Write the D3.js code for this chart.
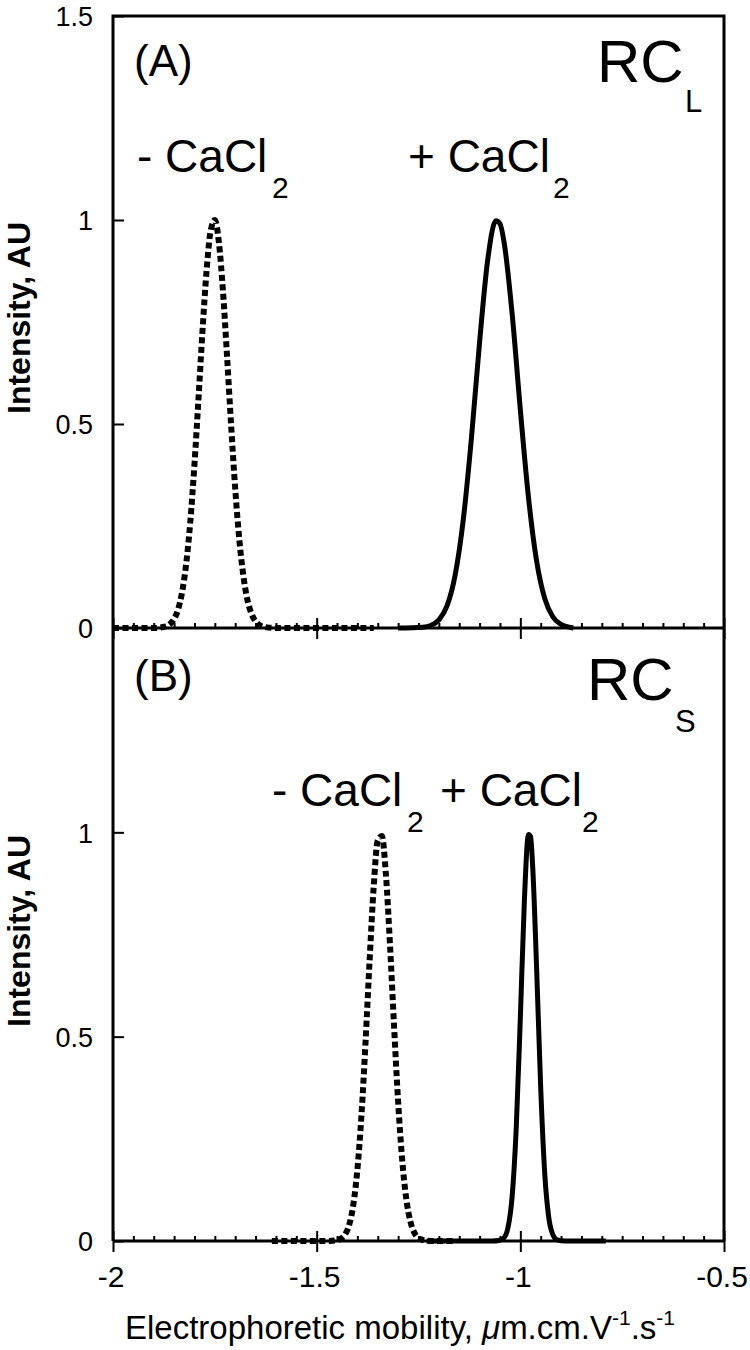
<!DOCTYPE html>
<html>
<head>
<meta charset="utf-8">
<script src="https://cdn.jsdelivr.net/npm/d3@7"></script>
<style>
  body { margin: 0; background: #fff; }
  svg text { font-family: "Liberation Sans", Arial, Helvetica, sans-serif; fill: #000; }
</style>
</head>
<body>
<div id="chart"></div>
<script>

// axis ticks
var xMajor = [-2, -1.5, -1, -0.5];
var xMajorLabels = ["-2", "-1.5", "-1", "-0.5"];
var yTopTicks = [0, 0.5, 1, 1.5];
var yTopLabels = ["0", "0.5", "1", "1.5"];
var yBotTicks = [0, 0.5, 1];
var yBotLabels = ["0", "0.5", "1"];

// (A) RC_L, - CaCl2 (dotted)
var aMinusX = [-2.00, -1.90, -1.87, -1.86, -1.85, -1.84, -1.83, -1.82, -1.81, -1.80, -1.79, -1.78, -1.77, -1.76, -1.75, -1.74, -1.73, -1.72, -1.71, -1.70, -1.69, -1.68, -1.67, -1.66, -1.65, -1.64, -1.63, -1.60, -1.36];
var aMinusY = [0, 0, 0.004, 0.010, 0.022, 0.046, 0.090, 0.160, 0.263, 0.401, 0.564, 0.733, 0.879, 0.975, 1.0, 0.945, 0.825, 0.666, 0.497, 0.342, 0.218, 0.128, 0.069, 0.035, 0.016, 0.007, 0.003, 0, 0];

// (A) RC_L, + CaCl2 (solid)
var aPlusX = [-1.30, -1.24, -1.22, -1.20, -1.18, -1.16, -1.14, -1.12, -1.10, -1.08, -1.06, -1.05, -1.04, -1.02, -1.00, -0.98, -0.96, -0.94, -0.92, -0.90, -0.88, -0.87];
var aPlusY = [0, 0.002, 0.006, 0.020, 0.054, 0.130, 0.266, 0.466, 0.701, 0.903, 0.998, 0.991, 0.946, 0.769, 0.535, 0.320, 0.164, 0.072, 0.027, 0.009, 0.002, 0];

// (B) RC_S, - CaCl2 (dotted)
var bMinusX = [-1.61, -1.47, -1.45, -1.44, -1.43, -1.42, -1.41, -1.40, -1.39, -1.38, -1.37, -1.36, -1.35, -1.34, -1.33, -1.32, -1.31, -1.30, -1.29, -1.28, -1.27, -1.26, -1.25, -1.24, -1.22, -1.16];
var bMinusY = [0, 0, 0.002, 0.006, 0.016, 0.040, 0.089, 0.175, 0.308, 0.487, 0.687, 0.867, 0.980, 0.991, 0.897, 0.726, 0.526, 0.341, 0.198, 0.103, 0.048, 0.020, 0.007, 0.003, 0, 0];

// (B) RC_S, + CaCl2 (solid)
var bPlusX = [-1.23, -1.07, -1.05, -1.04, -1.03, -1.02, -1.01, -1.00, -0.99, -0.98, -0.975, -0.97, -0.96, -0.95, -0.94, -0.93, -0.92, -0.91, -0.89, -0.79];
var bPlusY = [0, 0, 0.002, 0.008, 0.034, 0.110, 0.278, 0.546, 0.835, 0.995, 0.99, 0.923, 0.667, 0.375, 0.164, 0.056, 0.015, 0.003, 0, 0];

var W = 750, H = 1350;
var left = 113, right = 724;
var topA = 16, baseA = 628, baseB = 1241;

var svg = d3.select("#chart").append("svg")
  .attr("width", W)
  .attr("height", H);

svg.append("rect").attr("width", W).attr("height", H).attr("fill", "#fff");

var x = d3.scaleLinear().domain([-2, -0.5]).range([left, right]);
var yA = d3.scaleLinear().domain([0, 1.5]).range([baseA, topA]);
var yB = d3.scaleLinear().domain([0, 1.5]).range([baseB, baseA]);

// minor ticks every 0.05, skipping the majors
var minor = d3.range(0, 31).map(i => -2 + i * 0.05).filter(v => Math.abs(v * 2 - Math.round(v * 2)) > 1e-6);

function drawPanel(y, base, yTicks, yLabels) {
  // minor x ticks, pointing up
  svg.append("g")
    .attr("transform", "translate(0," + base + ")")
    .call(d3.axisBottom(x).tickValues(minor).tickSize(-5).tickFormat(""))
    .call(g => g.select(".domain").remove())
    .selectAll("line").attr("stroke-width", 2);

  // major x ticks crossing the axis
  svg.append("g")
    .attr("transform", "translate(0," + base + ")")
    .call(d3.axisBottom(x).tickValues(xMajor).tickSize(-10).tickFormat(""))
    .call(g => g.select(".domain").remove())
    .selectAll("line").attr("stroke-width", 2);
  svg.append("g")
    .attr("transform", "translate(0," + base + ")")
    .call(d3.axisBottom(x).tickValues(xMajor).tickSize(11).tickFormat(""))
    .call(g => g.select(".domain").remove())
    .selectAll("line").attr("stroke-width", 2);

  // y ticks pointing in
  var ya = svg.append("g")
    .attr("transform", "translate(" + left + ",0)")
    .call(d3.axisLeft(y).tickValues(yTicks).tickSize(-11)
      .tickFormat((d, i) => yLabels[i]));
  ya.select(".domain").remove();
  ya.selectAll("line").attr("stroke-width", 2);
  ya.selectAll("text")
    .attr("font-size", 27)
    .attr("font-family", "Liberation Sans, Arial, sans-serif")
    .attr("x", -20)
    .attr("dy", "0.36em");

  // axis line
  svg.append("line")
    .attr("x1", left).attr("x2", right)
    .attr("y1", base).attr("y2", base)
    .attr("stroke", "#000").attr("stroke-width", 3);
}

drawPanel(yA, baseA, yTopTicks, yTopLabels);
drawPanel(yB, baseB, yBotTicks, yBotLabels);

// frame
svg.append("path")
  .attr("d", "M" + left + "," + baseB + "V" + topA + "H" + right + "V" + baseB)
  .attr("fill", "none")
  .attr("stroke", "#000")
  .attr("stroke-width", 3);

// x tick labels
svg.append("g")
  .selectAll("text")
  .data(xMajor)
  .enter()
  .append("text")
  .attr("x", d => x(d) - 2)
  .attr("y", baseB + 46)
  .attr("text-anchor", "middle")
  .attr("font-size", 30)
  .text((d, i) => xMajorLabels[i]);

// curves
function curve(xs, ys, y, dotted) {
  var pts = xs.map((v, i) => [v, ys[i]]);
  var line = d3.line()
    .x(d => x(d[0]))
    .y(d => y(d[1]))
    .curve(d3.curveMonotoneX);
  var p = svg.append("path")
    .datum(pts)
    .attr("d", line)
    .attr("fill", "none")
    .attr("stroke", "#000")
    .attr("stroke-linejoin", "round");
  if (dotted) {
    p.attr("stroke-width", 6).attr("stroke-dasharray", "6,3.5");
  } else {
    p.attr("stroke-width", 5);
  }
}

curve(aMinusX, aMinusY, yA, true);
curve(aPlusX, aPlusY, yA, false);
curve(bMinusX, bMinusY, yB, true);
curve(bPlusX, bPlusY, yB, false);

// panel labels
function label(txt, px, py, size) {
  return svg.append("text")
    .attr("x", px).attr("y", py)
    .attr("font-size", size)
    .text(txt);
}

label("(A)", 134, 76, 44);
label("(B)", 134, 691, 44);
label("RC", 597, 82, 60);
label("L", 685, 112, 31);
label("RC", 587, 700, 60);
label("S", 675, 732, 31);

// CaCl2 labels
label("- CaCl", 137, 172, 46);
label("2", 272, 198, 30);
label("+ CaCl", 408, 172, 46);
label("2", 553, 198, 30);
label("- CaCl", 272, 806, 46);
label("2", 407, 832, 30);
label("+ CaCl", 440, 806, 46);
label("2", 582, 832, 30);

// y axis titles
[baseA - 310, baseB - 310].forEach(cy => {
  svg.append("text")
    .attr("transform", "translate(30," + cy + ") rotate(-90)")
    .attr("text-anchor", "middle")
    .attr("font-size", 32)
    .attr("font-weight", "bold")
    .text("Intensity, AU");
});

// x axis title
var xt = svg.append("text")
  .attr("x", 125)
  .attr("y", 1339)
  .attr("font-size", 33);
xt.append("tspan").text("Electrophoretic mobility, ");
xt.append("tspan").attr("font-style", "italic").text("\u03bc");
xt.append("tspan").text("m.cm.V");
xt.append("tspan").attr("dy", -14).attr("font-size", 21).text("-1");
xt.append("tspan").attr("dy", 14).text(".s");
xt.append("tspan").attr("dy", -14).attr("font-size", 21).text("-1");

</script>
</body>
</html>
